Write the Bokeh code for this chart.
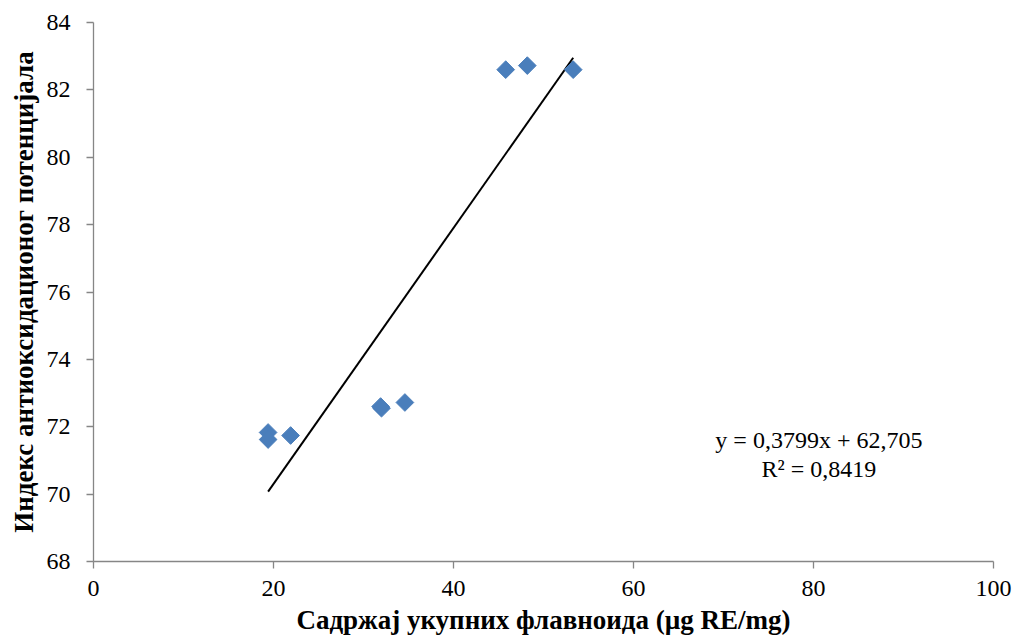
from bokeh.plotting import figure
from bokeh.models import Range1d, FixedTicker, ColumnDataSource, Label
from bokeh.embed import file_html
from bokeh.resources import INLINE
import numpy as np

# Total flavonoid content (µg RE/mg) and antioxidant potential index
flavonoids = [19.4, 19.4, 21.9, 31.9, 32.0, 34.6, 45.8, 48.2, 53.3]
antioxidant_index = [71.83, 71.62, 71.74, 72.60, 72.55, 72.72, 82.60, 82.72, 82.60]

# Linear trend line reported for the series
slope = 0.3799
intercept = 62.705
r_squared = 0.8419

x_ticks = [0, 20, 40, 60, 80, 100]
y_ticks = [68, 70, 72, 74, 76, 78, 80, 82, 84]

FONT = "Liberation Serif"
AXIS_GREY = "#868686"
MARKER_BLUE = "#4A7EBB"

p = figure(width=1019, height=638, output_backend="svg", toolbar_location=None,
           x_range=Range1d(0, 100), y_range=Range1d(68, 84),
           min_border_left=93, min_border_right=26, min_border_top=22, min_border_bottom=77)
p.outline_line_color = None
p.xgrid.visible = False
p.ygrid.visible = False
p.background_fill_color = "white"
p.border_fill_color = "white"

for ax in (p.xaxis[0], p.yaxis[0]):
    ax.axis_line_color = AXIS_GREY
    ax.axis_line_width = 1.3
    ax.major_tick_line_color = AXIS_GREY
    ax.major_tick_line_width = 1.3
    ax.major_tick_out = 7
    ax.major_tick_in = 0
    ax.minor_tick_line_color = None
    ax.major_label_text_font = FONT
    ax.major_label_text_font_size = "24px"
    ax.major_label_text_color = "black"
    ax.axis_label_text_font = FONT
    ax.axis_label_text_font_size = "27px"
    ax.axis_label_text_font_style = "bold"
    ax.axis_label_text_color = "black"

p.xaxis.ticker = FixedTicker(ticks=x_ticks)
p.yaxis.ticker = FixedTicker(ticks=y_ticks)
p.xaxis.axis_label = "Садржај укупних флавноида (µg RE/mg)"
p.yaxis.axis_label = "Индекс антиоксидационог потенцијала"
p.xaxis.major_label_standoff = 12
p.yaxis.major_label_standoff = 16
p.xaxis.axis_label_standoff = 6
p.yaxis.axis_label_standoff = 5

# Trend line across the observed range of x
xs = np.array([min(flavonoids), max(flavonoids)])
p.line(xs, slope * xs + intercept, line_color="black", line_width=2)

src = ColumnDataSource(dict(x=flavonoids, y=antioxidant_index))
p.scatter("x", "y", source=src, marker="square", size=12.5, angle=np.pi / 4,
          fill_color=MARKER_BLUE, line_color=MARKER_BLUE, line_width=1)

eq_text = f"y = {slope:.4f}x + {intercept:.3f}".replace(".", ",")
r2_text = f"R² = {r_squared:.4f}".replace(".", ",")
for txt, yy in ((eq_text, 71.6), (r2_text, 70.74)):
    p.add_layout(Label(x=80.6, y=yy, text=txt, text_font=FONT, text_font_size="24px",
                       text_align="center", text_baseline="middle", text_color="black"))

open("out.html", "w").write(file_html(p, INLINE))
